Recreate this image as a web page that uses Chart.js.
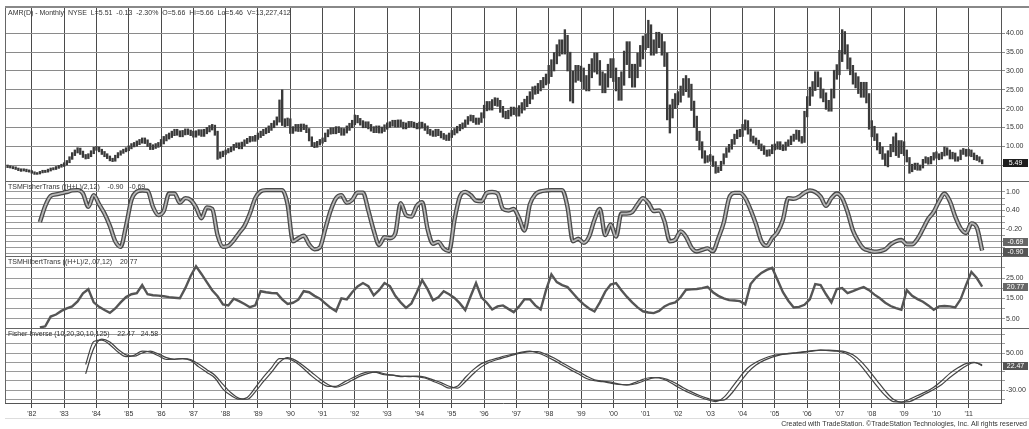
<!DOCTYPE html>
<html>
<head>
<meta charset="utf-8">
<script src="https://cdn.jsdelivr.net/npm/chart.js@4.4.1/dist/chart.umd.min.js"></script>
<style>
  html, body { margin: 0; padding: 0; background: #fff; }
</style>
</head>
<body>
<canvas id="c" width="1029" height="429" style="width:1029px;height:429px"></canvas>
<script>
// AMR monthly bars, Apr 1981 .. Jun 2011
const priceStart = 1981 + 3 / 12;
const priceLow = [
  4.3, 4.2, 4.0, 3.8, 3.5, 3.3, 3.4, 3.2, 3.1,
  2.8, 2.5, 2.5, 2.6, 2.9, 3.0, 3.1, 3.4, 3.7, 3.8, 4.1, 4.4,
  4.6, 5.0, 5.6, 6.5, 7.5, 8.2, 7.8, 7.0, 6.6, 6.7, 7.2, 8.0,
  8.9, 8.5, 7.8, 7.2, 6.7, 6.1, 5.9, 6.0, 6.9, 7.6, 8.1, 8.5,
  8.8, 9.3, 9.8, 10.0, 10.4, 10.8, 10.7, 9.9, 9.1, 9.1, 9.4, 9.7,
  9.9, 10.6, 11.4, 11.9, 12.3, 12.8, 12.9, 12.5, 12.5, 13.0, 13.1, 12.8,
  12.4, 12.4, 12.9, 12.6, 12.6, 13.3, 13.8, 14.3, 12.9, 6.5, 6.8, 7.2,
  7.8, 8.2, 8.5, 8.9, 9.6, 9.3, 9.3, 10.1, 10.7, 11.1, 11.3, 11.3,
  11.8, 12.3, 12.8, 13.3, 13.6, 14.2, 14.9, 15.6, 16.4, 15.5, 15.2, 15.4,
  13.4, 13.4, 14.0, 13.9, 13.9, 14.4, 13.6, 11.4, 9.9, 9.6, 9.7, 10.3,
  10.8, 11.2, 12.5, 13.2, 13.3, 13.3, 13.6, 12.9, 12.9, 13.5, 14.2, 14.9,
  15.7, 16.2, 15.6, 14.9, 14.9, 14.6, 14.0, 13.6, 13.6, 13.5, 13.5, 13.9,
  14.5, 15.0, 15.3, 15.1, 15.1, 15.2, 14.6, 14.6, 15.0, 15.2, 14.9, 14.6,
  14.6, 14.8, 14.2, 13.3, 12.9, 12.6, 12.6, 12.8, 12.2, 11.8, 11.5, 11.5,
  12.3, 13.0, 13.5, 14.1, 14.6, 15.0, 15.8, 16.7, 16.3, 15.8, 15.8, 16.3,
  17.5, 19.4, 19.6, 19.6, 20.8, 20.6, 19.0, 17.7, 17.3, 17.3, 18.0, 18.4,
  18.0, 18.0, 18.8, 19.6, 20.5, 21.3, 22.5, 23.8, 24.0, 24.7, 25.5, 26.3,
  26.7, 28.5, 30.0, 31.9, 34.0, 34.5, 34.5, 30.0, 22.0, 21.5, 27.0, 27.5,
  27.2, 25.2, 24.7, 24.7, 28.2, 29.7, 29.2, 26.2, 24.2, 24.2, 25.7, 28.2,
  27.2, 24.7, 22.2, 22.2, 26.2, 31.7, 28.2, 25.7, 25.7, 28.2, 31.2, 33.2,
  35.7, 36.2, 34.2, 34.2, 34.7, 36.2, 34.2, 31.2, 17.0, 13.5, 17.5, 20.0,
  21.0, 21.7, 23.5, 24.5, 23.0, 19.5, 15.0, 11.5, 9.0, 6.8, 5.5, 5.7,
  6.0, 4.6, 2.8, 3.0, 3.5, 5.2, 7.0, 8.4, 9.2, 10.5, 12.0, 12.5,
  12.6, 14.3, 13.2, 11.3, 10.8, 10.3, 9.3, 8.8, 7.8, 7.3, 7.4, 8.0,
  9.0, 9.2, 9.1, 8.8, 8.9, 10.0, 10.4, 11.3, 11.8, 11.3, 10.8, 11.0,
  17.8, 20.8, 23.3, 24.8, 25.8, 22.8, 21.8, 19.8, 19.3, 19.3, 22.8, 27.8,
  29.0, 32.5, 34.5, 30.5, 29.0, 26.5, 25.5, 24.0, 23.0, 23.0, 21.5, 14.5,
  12.5, 11.5, 9.0, 8.0, 6.5, 4.8, 4.5, 7.2, 8.5, 7.5, 7.0, 8.0,
  7.5, 5.8, 2.8, 3.2, 3.8, 3.6, 3.6, 4.2, 5.5, 5.2, 5.3, 6.3,
  6.8, 6.4, 6.6, 7.4, 7.6, 6.6, 6.6, 6.0, 6.0, 6.4, 7.8, 7.3,
  7.4, 7.2, 6.4, 6.2, 5.8, 5.3
];
const priceHigh = [
  5.0, 4.8, 4.6, 4.5, 4.2, 4.0, 4.0, 3.9, 3.7,
  3.5, 3.2, 3.0, 3.3, 3.6, 3.6, 3.9, 4.2, 4.3, 4.6, 4.9, 5.2,
  5.6, 6.2, 7.2, 8.3, 9.0, 9.6, 9.5, 8.7, 7.8, 8.0, 8.8, 9.7,
  9.9, 9.8, 9.2, 8.6, 8.0, 7.4, 6.8, 7.6, 8.3, 8.8, 9.2, 9.6,
  10.1, 10.7, 11.0, 11.4, 11.8, 12.2, 12.2, 11.7, 10.8, 10.4, 10.7, 11.0,
  11.8, 12.6, 13.1, 13.5, 14.0, 14.5, 14.5, 14.1, 14.2, 14.6, 14.6, 14.3,
  14.0, 14.1, 14.4, 14.4, 14.5, 15.0, 15.5, 15.8, 15.6, 14.0, 8.5, 8.7,
  9.0, 9.4, 9.8, 10.5, 10.9, 10.9, 11.1, 11.7, 12.1, 12.6, 12.6, 12.9,
  13.5, 14.0, 14.5, 14.8, 15.4, 16.1, 16.8, 17.8, 22.3, 25.0, 17.3, 17.5,
  17.3, 15.2, 15.8, 15.8, 15.9, 15.9, 15.6, 14.7, 12.5, 11.0, 11.3, 11.8,
  12.2, 13.5, 14.4, 14.9, 14.9, 15.2, 15.2, 14.8, 14.7, 15.4, 16.1, 16.9,
  18.3, 18.2, 17.4, 16.8, 16.5, 16.5, 15.8, 15.2, 15.4, 15.4, 15.1, 15.7,
  16.2, 16.5, 16.9, 16.9, 17.0, 17.0, 16.4, 16.2, 16.6, 16.6, 16.4, 16.1,
  16.4, 16.4, 16.0, 15.4, 14.5, 14.1, 14.5, 14.5, 14.0, 13.4, 13.0, 13.5,
  14.2, 14.7, 15.3, 15.8, 16.2, 17.0, 17.9, 18.3, 18.2, 17.5, 17.5, 18.9,
  20.9, 21.9, 21.9, 22.4, 22.9, 22.8, 22.2, 20.6, 19.3, 19.6, 20.4, 20.4,
  20.2, 20.8, 21.6, 22.5, 23.3, 24.5, 25.8, 26.0, 26.7, 27.5, 28.3, 29.2,
  31.5, 33.0, 34.9, 37.0, 38.3, 38.3, 41.0, 39.5, 35.0, 30.0, 31.5, 31.5,
  31.3, 30.8, 28.8, 31.8, 33.3, 34.8, 34.8, 32.8, 29.8, 29.3, 31.8, 33.3,
  33.3, 30.8, 28.3, 29.8, 35.3, 37.8, 37.8, 31.8, 31.8, 34.8, 36.8, 39.3,
  39.8, 43.5, 42.3, 38.3, 40.3, 40.3, 39.8, 37.8, 34.8, 21.0, 22.5, 24.0,
  24.5, 26.0, 28.0, 28.8, 28.0, 26.5, 22.0, 18.0, 14.0, 11.2, 8.8, 7.5,
  7.8, 7.4, 5.9, 4.5, 6.0, 8.0, 9.6, 10.5, 11.8, 13.2, 14.3, 14.5,
  15.8, 17.0, 16.8, 14.6, 12.7, 12.2, 11.6, 10.6, 10.1, 9.0, 9.1, 10.4,
  10.6, 11.2, 11.2, 10.4, 11.1, 11.7, 12.7, 13.2, 14.3, 14.2, 12.6, 19.3,
  23.2, 25.7, 27.2, 29.8, 29.8, 28.2, 25.2, 24.2, 22.2, 25.2, 30.2, 31.7,
  35.5, 41.0, 40.5, 37.0, 33.5, 31.5, 29.5, 28.5, 27.0, 27.0, 27.0, 24.0,
  16.8, 15.3, 13.3, 11.0, 9.8, 8.0, 8.8, 10.5, 12.5, 13.5, 11.5, 11.5,
  11.2, 9.0, 7.0, 5.2, 5.5, 5.5, 5.0, 6.5, 7.2, 7.0, 7.3, 8.3,
  8.5, 8.0, 8.4, 9.8, 9.6, 9.0, 8.4, 8.2, 7.2, 9.0, 9.4, 9.2,
  9.2, 9.0, 8.2, 7.6, 7.2, 6.4
];
const lastClose = 5.49;

// Fisher and Hilbert transforms, every second month from Apr 1982
const indStart = 1982 + 3 / 12;
const fisher = [
  0.02, 0.55, 0.87, 0.92, 0.96,
  1.0, 1.05, 1.06, 0.95, 0.52, 0.9,
  0.6, 0.3, -0.1, -0.6, -0.78, -0.1,
  0.74, 1.01, 1.05, 1.04, 0.52, 0.25,
  0.38, 0.95, 0.95, 0.65, 0.8, 0.74,
  0.5, 0.15, 0.5, 0.45, -0.4, -0.78,
  -0.75, -0.57, -0.33, -0.1, 0.3, 0.8,
  1.02, 1.06, 1.06, 1.06, 1.06, 0.6,
  -0.6, -0.5, -0.42, -0.7, -0.86, -0.8,
  -0.2, 0.4, 0.8, 0.9, 0.65, 0.74,
  0.98, 0.98, 0.4, -0.25, -0.72, -0.47,
  -0.5, -0.35, 0.64, 0.25, 0.2, 0.55,
  0.67, -0.2, -0.68, -0.62, -0.84, -0.92,
  0.1, 0.85, 1.0, 0.9, 0.72, 0.7,
  0.97, 1.0, 0.95, 0.45, 0.4, 0.45,
  0.15, -0.25, 0.6, 0.92, 1.02, 1.05,
  1.06, 1.06, 1.06, 0.5, -0.6, -0.52,
  -0.65, -0.45, 0.1, 0.45, -0.4, -0.05,
  -0.45, 0.3, 0.3, 0.35, 0.6, 0.8,
  0.65, 0.38, 0.4, 0.05, -0.6, -0.55,
  -0.28, -0.45, -0.8, -0.93, -0.88, -0.83,
  -0.92, -0.5, 0.0, 0.8, 0.97, 0.97,
  0.8, 0.42, -0.05, -0.6, -0.75, -0.5,
  -0.3, 0.1, 0.8, 0.78, 0.85, 0.98,
  1.05, 1.0, 0.85, 0.55, 0.8, 0.95,
  0.8, 0.35, -0.25, -0.6, -0.84, -0.9,
  -0.94, -0.92, -0.86, -0.7, -0.6, -0.56,
  -0.7, -0.7, -0.52, -0.2, 0.13, 0.35,
  0.7, 0.95, 0.7, 0.2, -0.18, -0.33,
  -0.02, -0.15, -0.9
];
const fisherTrigger = -0.69;
const hilbert = [
  0.6, 1.2, 6.0, 7.0, 8.8,
  10.0, 11.0, 13.5, 17.5, 19.5, 13.0,
  10.8, 9.2, 7.8, 10.0, 13.0, 15.6,
  17.0, 17.5, 21.5, 17.0, 16.5, 16.3,
  16.0, 15.6, 15.3, 15.0, 20.0, 26.0,
  30.8, 27.0, 23.0, 19.0, 16.0, 12.0,
  11.5, 14.8, 13.6, 12.2, 10.6, 11.5,
  18.5, 18.0, 17.6, 17.5, 14.5, 12.2,
  12.8, 14.3, 18.5, 18.0, 16.2, 14.8,
  12.5, 10.3, 8.6, 15.0, 14.5, 18.0,
  20.8, 22.5, 21.0, 16.5, 19.0, 22.5,
  21.0, 16.2, 13.0, 10.3, 12.5, 18.0,
  24.0, 19.5, 14.0, 15.5, 18.5, 17.0,
  15.2, 12.5, 9.2, 16.0, 22.5, 15.5,
  12.8, 9.5, 11.0, 11.5, 9.8, 8.2,
  11.0, 14.5, 14.5, 11.5, 9.5, 19.0,
  26.8, 23.0, 21.5, 20.5, 17.5, 14.5,
  12.0, 10.0, 8.5, 13.0, 18.3, 21.8,
  22.5, 19.0, 15.8, 13.0, 10.5, 8.6,
  8.0, 7.7, 8.8, 11.0, 12.3, 13.0,
  15.5, 19.2, 19.4, 19.6, 20.0, 20.7,
  18.0, 16.2, 15.0, 14.1, 13.9, 13.6,
  12.0, 22.0, 25.2, 27.5, 29.0, 30.0,
  24.0, 18.0, 13.8, 10.5, 10.8, 11.8,
  14.5, 22.0, 21.5, 17.0, 13.0, 19.5,
  20.0, 17.5, 18.5, 19.6, 20.5, 19.0,
  16.8, 15.0, 12.8, 11.2, 10.2, 9.4,
  19.0, 16.2, 14.6, 13.3, 11.5, 9.4,
  11.0, 11.2, 11.0, 10.5, 14.5, 21.5,
  28.0, 25.0, 20.77
];

// Fisher inverse, two plots, quarterly from Sep 1983
const invStart = 1983 + 8 / 12;
const invFast = [
  25, 75,
  78, 68, 52, 42,   45, 54, 52, 44,   36, 37, 38, 34,   20, 8, -4, -28,
  -42, -50, -46, -25,   -2, 18, 38, 38,   30, 16, 0, -13,   -22, -22, -13, -4,
  4, 9, 8, 3,   2, -1, 0, -1,   -4, -11, -18, -26,   -22, -3, 14, 27,
  34, 39, 44, 48,   52, 54, 50, 43,   34, 24, 14, 5,   -5, -10, -12, -15,
  -18, -19, -14, -7,   -3, -4, -10, -20,   -30, -38, -45, -51,   -55, -46, -25, -2,
  18, 30, 38, 44,   47, 49, 51, 53,   55, 56, 55, 54,   50, 40, 22, 0,
  -22, -42, -55, -56,   -50, -42, -34, -24,   -10, 6, 18, 27,
  30, 22.47
];
const invSlow = [
  5, 60,
  80, 74, 58, 46,   43, 50, 54, 48,   40, 36, 38, 36,   26, 14, 2, -18,
  -36, -48, -50, -34,   -12, 8, 30, 40,   34, 22, 8, -6,   -18, -24, -18, -9,
  0, 6, 9, 5,   2, 0, -1, 0,   -2, -8, -14, -22,   -26, -12, 5, 20,
  30, 36, 41, 46,   50, 53, 53, 47,   39, 29, 19, 10,   0, -8, -11, -13,
  -17, -19, -17, -11,   -5, -3, -7, -15,   -25, -34, -42, -48,   -53, -52, -37, -14,
  8, 24, 34, 41,   46, 48, 50, 52,   54, 56, 56, 55,   53, 46, 32, 12,
  -10, -32, -50, -56,   -55, -47, -38, -29,   -18, -3, 10, 22,
  29, 24.58
];

// axis ticks
const yearTicks = [1982, 1983, 1984, 1985, 1986, 1987, 1988, 1989, 1990, 1991,
  1992, 1993, 1994, 1995, 1996, 1997, 1998, 1999, 2000, 2001,
  2002, 2003, 2004, 2005, 2006, 2007, 2008, 2009, 2010, 2011];
const priceTicks = [5, 10, 15, 20, 25, 30, 35, 40];
const priceLabels = [10, 15, 20, 25, 30, 35, 40];
const fisherTicks = [1, 0.8, 0.6, 0.4, 0.2, 0, -0.2, -0.4, -0.6, -0.8, -1];
const fisherLabels = [1, 0.4, -0.2];
const hilbertTicks = [5, 10, 15, 20, 25, 30];
const hilbertLabels = [5, 15, 25];
const invTicks = [90, 70, 50, 30, 10, -10, -30, -50];
const invLabels = [50, -30];

const titles = {
  yP: 'AMR(D) - Monthly  NYSE  L=5.51  -0.13  -2.30%  O=5.66  Hi=5.66  Lo=5.46  V=13,227,412',
  yF: 'TSMFisherTrans ((H+L)/2,12)    -0.90   -0.69',
  yH: 'TSMHilbertTrans ((H+L)/2,.07,12)    20.77',
  yI: 'Fisher Inverse (10,20,30,10,125)    22.47   24.58'
};
const footer = 'Created with TradeStation. \u00A9TradeStation Technologies, Inc. All rights reserved';

const FONT = '"Liberation Sans", Arial, sans-serif';
Chart.defaults.font.family = FONT;
Chart.defaults.font.size = 7;
Chart.defaults.color = '#333';

const bars = priceLow.map((lo, i) => ({ x: priceStart + i / 12, y: [lo, priceHigh[i]] }));
const fisherPts = fisher.map((v, i) => ({ x: indStart + i / 6, y: v }));
const hilbertPts = hilbert.map((v, i) => ({ x: indStart + i / 6, y: v }));
const fastPts = invFast.map((v, i) => ({ x: invStart + i / 4, y: v }));
const slowPts = invSlow.map((v, i) => ({ x: invStart + i / 4, y: v }));

function panel(weight, min, max, ticks, labels, gridColor) {
  return {
    position: 'right', stack: 'panels', stackWeight: weight, min, max,
    afterBuildTicks: s => { s.ticks = ticks.map(value => ({ value })); },
    afterFit: s => { s.width = 28; },
    grid: { color: gridColor, tickLength: 4 },
    border: { color: '#555' },
    ticks: {
      autoSkip: false, padding: 1, font: { size: 7 },
      callback: v => labels.some(l => Math.abs(l - v) < 1e-6) ? v.toFixed(2) : ''
    }
  };
}

const frame = {
  id: 'frame',
  beforeDraw(chart) {
    const { ctx, width, height } = chart;
    ctx.save();
    ctx.fillStyle = '#fff';
    ctx.fillRect(0, 0, width, height);
    ctx.restore();
  },
  afterDraw(chart) {
    const { ctx, chartArea: a, scales, width } = chart;
    ctx.save();
    ctx.strokeStyle = '#666';
    ctx.lineWidth = 1;
    ['yF', 'yH', 'yI'].forEach(id => {
      const y = Math.round(scales[id].top) + 0.5;
      ctx.beginPath(); ctx.moveTo(a.left, y); ctx.lineTo(width, y); ctx.stroke();
    });
    ctx.beginPath(); ctx.moveTo(a.left + 0.5, a.top); ctx.lineTo(a.left + 0.5, a.bottom); ctx.stroke();
    ctx.strokeStyle = '#888';
    ctx.lineWidth = 2;
    ctx.beginPath(); ctx.moveTo(a.left, a.top); ctx.lineTo(width, a.top); ctx.stroke();
    ctx.strokeStyle = '#ddd';
    ctx.lineWidth = 1;
    ctx.beginPath(); ctx.moveTo(a.left, 418.5); ctx.lineTo(width, 418.5); ctx.stroke();

    ctx.font = '7px ' + FONT;
    ctx.textBaseline = 'middle';
    ctx.fillStyle = '#333';
    Object.keys(titles).forEach(id => {
      ctx.fillText(titles[id], a.left + 3, scales[id].top + 6);
    });
    ctx.textAlign = 'right';
    ctx.fillText(footer, width - 2, 424);

    const box = (text, scale, value, fill) => {
      const y = scale.getPixelForValue(value);
      ctx.fillStyle = fill;
      ctx.fillRect(a.right + 2, Math.round(y - 4), 25, 8);
      ctx.fillStyle = '#fff';
      ctx.textAlign = 'center';
      ctx.fillText(text, a.right + 14.5, Math.round(y));
    };
    box(lastClose.toFixed(2), scales.yP, lastClose, '#1e1e1e');
    box(fisherTrigger.toFixed(2), scales.yF, fisherTrigger + 0.08, '#666');
    box(fisher[fisher.length - 1].toFixed(2), scales.yF, fisher[fisher.length - 1] - 0.05, '#555');
    box(hilbert[hilbert.length - 1].toFixed(2), scales.yH, hilbert[hilbert.length - 1], '#666');
    box(invFast[invFast.length - 1].toFixed(2), scales.yI, invFast[invFast.length - 1], '#555');
    ctx.restore();
  }
};

new Chart(document.getElementById('c'), {
  type: 'line',
  data: {
    datasets: [
      { type: 'bar', data: bars, yAxisID: 'yP', backgroundColor: '#3a3a3a', barThickness: 1.7, order: 5 },
      { data: fisherPts, yAxisID: 'yF', borderColor: '#b8b8b8', borderWidth: 1.8, pointRadius: 0, cubicInterpolationMode: 'monotone', order: 0 },
      { data: fisherPts, yAxisID: 'yF', borderColor: '#4a4a4a', borderWidth: 4.4, pointRadius: 0, cubicInterpolationMode: 'monotone', order: 1 },
      { data: hilbertPts, yAxisID: 'yH', borderColor: '#555', borderWidth: 2.4, pointRadius: 0, tension: 0, order: 2 },
      { data: fastPts, yAxisID: 'yI', borderColor: '#444', borderWidth: 1.2, pointRadius: 0, cubicInterpolationMode: 'monotone', order: 3 },
      { data: slowPts, yAxisID: 'yI', borderColor: '#444', borderWidth: 1.2, pointRadius: 0, cubicInterpolationMode: 'monotone', order: 4 }
    ]
  },
  options: {
    responsive: false,
    animation: false,
    events: [],
    layout: { padding: { left: 5, top: 7, right: 0, bottom: 0 } },
    plugins: { legend: { display: false }, tooltip: { enabled: false } },
    scales: {
      x: {
        type: 'linear', position: 'bottom', min: 1981.17, max: 2012.0, offset: false,
        afterBuildTicks: s => { s.ticks = yearTicks.map(value => ({ value })); },
        afterFit: s => { s.height = 26; },
        grid: { color: '#4a4a4a', tickLength: 5, offset: false },
        border: { color: '#555' },
        ticks: { autoSkip: false, maxRotation: 0, padding: 2, font: { size: 7 },
          callback: v => "'" + String(v).slice(2) }
      },
      yP: panel(174, 0.745, 47.02, priceTicks, priceLabels, '#8a8a8a'),
      yF: panel(75, -1.078, 1.357, fisherTicks, fisherLabels, '#9a9a9a'),
      yH: panel(72, 0.37, 35.84, hilbertTicks, hilbertLabels, '#9a9a9a'),
      yI: panel(75, -58.1, 104.05, invTicks, invLabels, '#9a9a9a')
    }
  },
  plugins: [frame]
});
</script>
</body>
</html>
